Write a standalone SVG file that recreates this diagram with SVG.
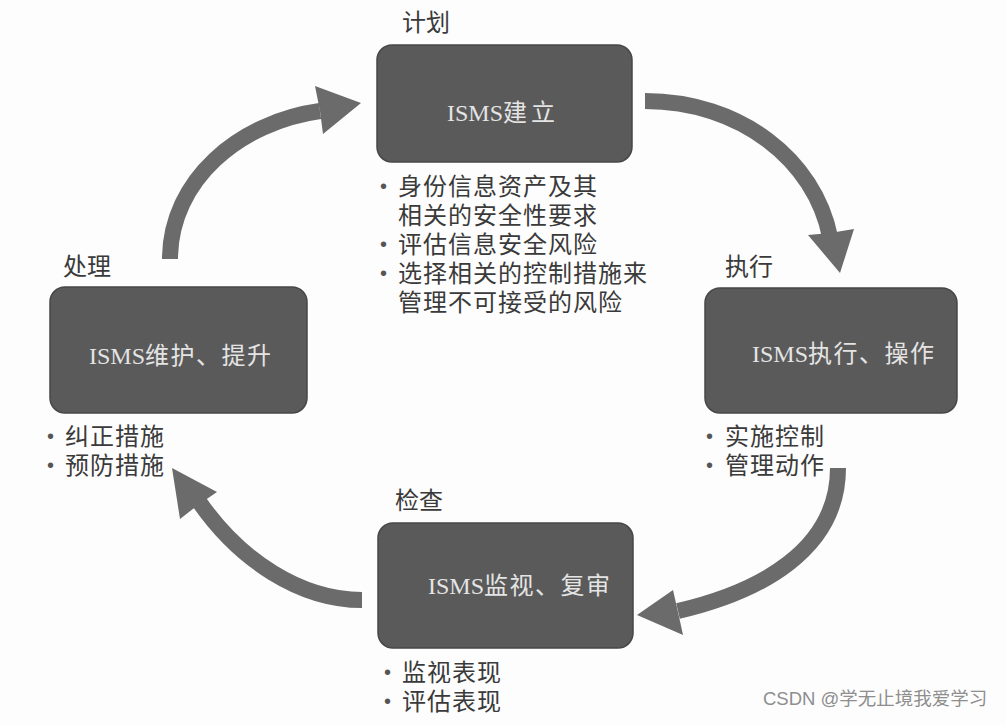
<svg xmlns="http://www.w3.org/2000/svg" width="1006" height="725" viewBox="0 0 1006 725">
<style>
.box{fill:#5a5a5a;stroke:#474747;stroke-width:1.5}
.bt{font-family:"Liberation Serif","Noto Sans CJK SC",serif;font-size:24px;fill:#e4e4e4}
.cj{letter-spacing:1.5px}
.lb{font-family:"Liberation Sans","Noto Sans CJK SC",sans-serif;font-size:24px;fill:#3a3a3a}
.li{font-family:"Liberation Sans","Noto Sans CJK SC",sans-serif;font-size:24px;fill:#3a3a3a;letter-spacing:1px}
.bu{font-family:"Liberation Sans",sans-serif;font-size:20px;fill:#555;letter-spacing:0}
.shaft{fill:none;stroke:#6b6b6b;stroke-width:16;stroke-linecap:butt}
.head{fill:#6b6b6b}
.wm{font-family:"Liberation Sans","Noto Sans CJK SC",sans-serif;font-size:18.5px;fill:#8e8e8e}
</style>
<rect width="1006" height="725" fill="#fdfdfd"/>
<g id="connectors">
<path class="shaft" d="M170,259 C170,180 240,122 320,111"/>
<polygon class="head" points="361,103 315,86 320,111 323,134"/>
<path class="shaft" d="M645,101 C740,101 815,160 830,237"/>
<polygon class="head" points="840,273 808,235 830,233 854,229"/>
<path class="shaft" d="M838,468 C838,550 760,592 678,611"/>
<polygon class="head" points="637,615 673,590 678,612 683,635"/>
<path class="shaft" d="M362,600 C300,600 240,560 200,503"/>
<polygon class="head" points="172,468 217,492 198,505 180,519"/>
</g>
<g id="plan">
<text class="lb" x="402" y="31">计划</text>
<rect class="box" x="377" y="45" width="255" height="117" rx="15"/>
<text class="bt" x="447" y="121">ISMS<tspan letter-spacing="4">建立</tspan></text>
<text class="li"><tspan class="bu" x="380" y="193">•</tspan><tspan x="398" y="195">身份信息资产及其</tspan><tspan x="398" y="224">相关的安全性要求</tspan><tspan class="bu" x="380" y="251">•</tspan><tspan x="398" y="253">评估信息安全风险</tspan><tspan class="bu" x="380" y="280">•</tspan><tspan x="398" y="282">选择相关的控制措施来</tspan><tspan x="398" y="311">管理不可接受的风险</tspan></text>
</g>
<g id="do">
<text class="lb" x="725" y="275">执行</text>
<rect class="box" x="705" y="288" width="252" height="125" rx="15"/>
<text class="bt" x="752" y="362">ISMS<tspan class="cj">执行、操作</tspan></text>
<text class="li"><tspan class="bu" x="706" y="443">•</tspan><tspan x="725" y="445">实施控制</tspan><tspan class="bu" x="706" y="472">•</tspan><tspan x="725" y="474">管理动作</tspan></text>
</g>
<g id="check">
<text class="lb" x="395" y="509">检查</text>
<rect class="box" x="378" y="523" width="255" height="125" rx="15"/>
<text class="bt" x="428" y="594">ISMS<tspan class="cj">监视、复审</tspan></text>
<text class="li"><tspan class="bu" x="384" y="679">•</tspan><tspan x="402" y="681">监视表现</tspan><tspan class="bu" x="384" y="708">•</tspan><tspan x="402" y="710">评估表现</tspan></text>
</g>
<g id="act">
<text class="lb" x="63" y="275">处理</text>
<rect class="box" x="50" y="287" width="257" height="126" rx="15"/>
<text class="bt" x="89" y="364">ISMS<tspan class="cj">维护、提升</tspan></text>
<text class="li"><tspan class="bu" x="47" y="443">•</tspan><tspan x="65" y="445">纠正措施</tspan><tspan class="bu" x="47" y="472">•</tspan><tspan x="65" y="474">预防措施</tspan></text>
</g>
<text class="wm" x="763" y="705">CSDN @学无止境我爱学习</text>
</svg>
